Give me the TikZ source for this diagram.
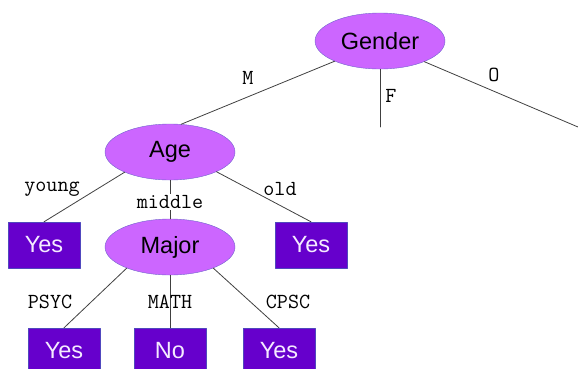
\documentclass[tikz,border=0pt]{standalone}
\usepackage{fontspec}
\setmainfont{Liberation Sans}
\usepackage{xcolor}
\usetikzlibrary{shapes.geometric}
\definecolor{dtlilac}{RGB}{204,102,255}
\definecolor{dtrim}{RGB}{112,100,204}
\definecolor{dtviolet}{RGB}{102,0,204}
\definecolor{dtleafrim}{RGB}{80,72,190}
\definecolor{dtleaftext}{RGB}{245,235,255}
\tikzset{
  every picture/.append style={line cap=round,line join=round},
  dt test/.style={ellipse,draw=dtrim,fill=dtlilac,minimum width=130pt,
    minimum height=56pt,inner sep=0pt,font=\fontsize{23.5}{27}\selectfont},
  dt leaf/.style={rectangle,draw=dtleafrim,fill=dtviolet,text=dtleaftext,
    minimum width=72pt,minimum height=46pt,inner sep=0pt,
    font=\fontsize{23.5}{27}\selectfont},
  dt branch/.style={draw=black!75,line width=0.8pt},
  dt value/.style={font=\ttfamily\fontsize{21.5}{24}\selectfont,inner sep=1pt}
}

\begin{document}
\begin{tikzpicture}[x=1pt, y=-1pt]
  \clip (0,0) rectangle (578,368);
  % tests
  \node[dt test] (gender) at (380,41) {Gender};
  \node[dt test] (age) at (170,152) {Age};
  \node[dt test] (major) at (170,247) {Major};
  % leaves
  \node[dt leaf] (young yes) at (44,245) {Yes};
  \node[dt leaf] (old yes) at (311,245) {Yes};
  \node[dt leaf] (psyc yes) at (64,351) {Yes};
  \node[dt leaf] (math no) at (170,351) {No};
  \node[dt leaf] (cpsc yes) at (279,351) {Yes};
  \coordinate (f end) at (380,127);
  \coordinate (o end) at (578,127);
  % branches
  \draw[dt branch] (gender.204) -- (age.68);
  \draw[dt branch] (gender.south) -- (f end);
  \draw[dt branch] (gender.335) -- (o end);
  \draw[dt branch] (age.204) -- (young yes.north);
  \draw[dt branch] (age.south) -- (major.north);
  \draw[dt branch] (age.337) -- (old yes.north);
  \draw[dt branch] (major.206) -- (psyc yes.north);
  \draw[dt branch] (major.south) -- (math no.north);
  \draw[dt branch] (major.334) -- (cpsc yes.north);
  % branch values
  \node[dt value] (m val) at (248,78) {M};
  \node[dt value] (f val) at (391,96) {F};
  \node[dt value] (o val) at (494,75) {O};
  \node[dt value] (young val) at (52,189) {young};
  \node[dt value, fill=white] (middle val) at (170,202) {middle};
  \node[dt value] (old val) at (280,189) {old};
  \node[dt value] (psyc val) at (50,302) {PSYC};
  \node[dt value] (math val) at (170,302) {MATH};
  \node[dt value] (cpsc val) at (288,302) {CPSC};
\end{tikzpicture}
\end{document}
